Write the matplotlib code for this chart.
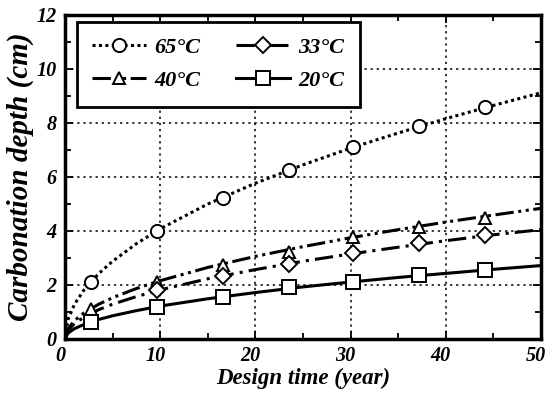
import matplotlib
matplotlib.use("Agg")
import matplotlib.pyplot as plt
import matplotlib.transforms as mtransforms
from matplotlib.ticker import MultipleLocator

plt.rcParams['font.family'] = ['Liberation Serif', 'DejaVu Serif']

# Curve samples
x_curve = [0, 0.3, 1, 2, 3.5, 5, 7.5, 10, 15, 20, 25, 30, 35, 40, 45, 50]
c65 = [0, 0.71, 1.29, 1.82, 2.41, 2.88, 3.53, 4.08, 5.00, 5.77, 6.45, 7.07, 7.63, 8.16, 8.65, 9.12]
c40 = [0, 0.37, 0.68, 0.97, 1.28, 1.53, 1.87, 2.16, 2.65, 3.06, 3.42, 3.75, 4.05, 4.33, 4.59, 4.84]
c33 = [0, 0.31, 0.575, 0.81, 1.08, 1.29, 1.57, 1.82, 2.23, 2.57, 2.88, 3.15, 3.40, 3.64, 3.86, 4.05]
c20 = [0, 0.21, 0.385, 0.54, 0.72, 0.86, 1.05, 1.22, 1.49, 1.72, 1.93, 2.11, 2.28, 2.43, 2.58, 2.72]

# Marker points
x_mark = [2.7, 9.7, 16.6, 23.5, 30.3, 37.2, 44.1]
m65 = [2.12, 4.0, 5.23, 6.26, 7.1, 7.9, 8.6]
m40 = [1.1, 2.12, 2.74, 3.23, 3.77, 4.14, 4.49]
x_mark33 = [9.7, 16.6, 23.5, 30.3, 37.2, 44.1]
m33 = [1.81, 2.33, 2.77, 3.2, 3.57, 3.85]
m20 = [0.64, 1.2, 1.54, 1.91, 2.1, 2.36, 2.56]

x_ticks = [0, 10, 20, 30, 40, 50]
y_ticks = [0, 2, 4, 6, 8, 10, 12]

labels = ['65°C', '40°C', '33°C', '20°C']

fig = plt.figure(figsize=(5.48, 3.95), dpi=100)
ax = fig.add_axes([65/548, 1-339/395, 476/548, 324/395])

lw = 2.2
styles = [
    (c65, x_mark, m65, (0, (1, 1.1)), 'o', 9.5),
    (c40, x_mark, m40, (0, (6, 1.5, 1, 1.5, 1, 1.5)), '^', 9.0),
    (c33, x_mark33, m33, (0, (6, 2, 1, 2)), 'D', 8.0),
    (c20, x_mark, m20, '-', 's', 10.0),
]
handles = []
for (cy, xm, my, ls, mk, msz), lab in zip(styles, labels):
    ax.plot(x_curve, cy, color='black', lw=lw, ls=ls, zorder=3)
    ax.plot(xm, my, ls='none', marker=mk, ms=msz, mfc='white', mec='black', mew=1.4, zorder=4)
    h, = ax.plot([], [], color='black', lw=lw, ls=ls, marker=mk, ms=msz,
                 mfc='white', mec='black', mew=1.4)
    handles.append(h)

ax.set_xlim(0, 50)
ax.set_ylim(0, 12)
ax.set_xticks(x_ticks)
ax.set_yticks(y_ticks)
ax.xaxis.set_minor_locator(MultipleLocator(5))
ax.yaxis.set_minor_locator(MultipleLocator(1))
ax.grid(True, which='major', ls=(0, (1.5, 2.5)), color='black', lw=1.1)
ax.tick_params(which='both', direction='in', top=True, right=True, width=1.3, color='black')
ax.tick_params(which='major', length=6)
ax.tick_params(which='minor', length=4)
ax.tick_params(axis='x', pad=5)
ax.tick_params(axis='y', pad=6)
for s in ax.spines.values():
    s.set_linewidth(2.5)

for t in ax.get_xticklabels() + ax.get_yticklabels():
    t.set_fontsize(14.5)
    t.set_fontweight('bold')
    t.set_fontstyle('italic')

shift = mtransforms.ScaledTranslation(-5/100, 0, fig.dpi_scale_trans)
for tk in ax.xaxis.get_major_ticks():
    tk.label1.set_transform(tk.label1.get_transform() + shift)

ax.set_xlabel('Design time (year)', fontsize=16.5, fontweight='bold', fontstyle='italic', labelpad=1)
ax.set_ylabel('Carbonation depth (cm)', fontsize=21, fontweight='bold', fontstyle='italic', labelpad=2)

leg = ax.legend(handles, labels, ncol=2, loc='upper left', bbox_to_anchor=(0.025, 0.978),
                borderaxespad=0, frameon=True, fancybox=False, handlelength=2.4,
                handletextpad=0.4, columnspacing=1.6, labelspacing=0.55,
                borderpad=0.7, prop=dict(size=16, weight='bold', style='italic'))
leg.get_frame().set_edgecolor('black')
leg.get_frame().set_linewidth(2.0)
leg.get_frame().set_alpha(1)
leg.set_zorder(5)

fig.savefig('out.png', dpi=100)
